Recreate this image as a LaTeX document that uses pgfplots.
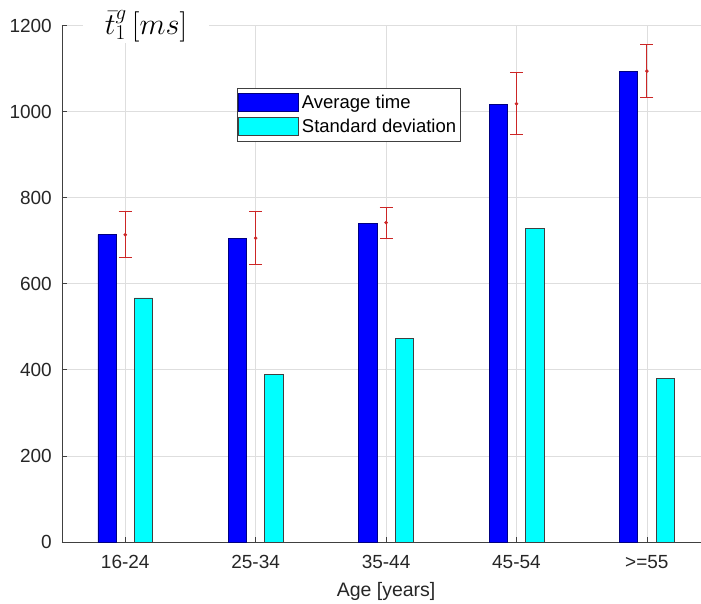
\documentclass[border=0pt]{standalone}
\usepackage{fontspec}
\setmainfont{Liberation Sans}
\usepackage{pgfplots}
\pgfplotsset{compat=1.18}
\usepackage{pgfplotstable}
\definecolor{axiscol}{rgb}{0.25,0.25,0.25}
\definecolor{gridcol}{rgb}{0.87,0.87,0.87}
\definecolor{errred}{rgb}{0.80,0.15,0.15}
\definecolor{barblue}{rgb}{0,0,1}
\definecolor{barcyan}{rgb}{0,1,1}
\pgfplotsset{
  patchlegend/.style={legend image code/.code={\draw[##1] (0pt,-9pt) rectangle (60pt,9pt);}}
}

\pgfplotstableread{
x  avg   sd
1  714   567
2  705   390
3  741   473
4  1017  728
5  1094  381
}\bars

\pgfplotstableread{
x  y     e
1  714   53
2  706   62
3  742   36
4  1018  72
5  1094  61
}\errs

\begin{document}
\begin{tikzpicture}
\begin{axis}[
  at={(0pt,0pt)}, anchor=south west,
  scale only axis, width=639pt, height=516.5pt,
  xmin=0.515, xmax=5.415, ymin=0, ymax=1200,
  axis x line*=bottom, axis y line*=left,
  axis line style={color=axiscol, line width=0.8pt},
  xtick={1,2,3,4,5},
  xticklabels={16-24,25-34,35-44,45-54,{>=55}},
  ytick={0,200,400,600,800,1000,1200},
  tick align=inside, major tick length=5pt,
  tick style={color=axiscol, line width=0.7pt},
  grid=major, major grid style={color=gridcol, line width=0.7pt},
  /pgf/number format/assume math mode=true,
  /pgf/number format/1000 sep={},
  ticklabel style={font=\fontsize{19}{22}\selectfont, text=axiscol!60!black},
  xticklabel style={inner sep=0pt, yshift=-13pt},
  yticklabel style={inner sep=0pt, xshift=-10pt},
  xlabel={Age [years]},
  xlabel style={font=\fontsize{19.5}{22}\selectfont, text=axiscol!60!black, at={(axis cs:3,0)}, anchor=north, inner sep=0pt, yshift=-40pt},
  legend style={at={(0.2739,0.879)}, anchor=north west, draw=axiscol, line width=0.6pt,
    font=\fontsize{18.5}{21}\selectfont, inner xsep=1pt, inner ysep=5pt, row sep=5.6pt,
    nodes={inner xsep=3pt, inner ysep=1pt}},
  legend cell align=left,
]
\addplot[ybar, bar width=0.14, bar shift=-0.14, fill=barblue, draw=blue!50!black, line width=0.6pt, patchlegend]
  table[x=x, y=avg] {\bars};
\addlegendentry{Average time}
\addplot[ybar, bar width=0.14, bar shift=0.14, fill=barcyan, draw=black!75, line width=0.6pt, patchlegend]
  table[x=x, y=sd] {\bars};
\addlegendentry{Standard deviation}
\addplot[forget plot, only marks, mark=*, mark size=1.6pt, color=errred, draw=errred, fill=errred,
  error bars/.cd, y dir=both, y explicit,
  error bar style={line width=1pt, draw=errred},
  error mark options={rotate=90, mark size=6.5pt, line width=1pt, draw=errred}]
  table[x=x, y=y, y error=e] {\errs};
\end{axis}
\node[fill=white, scale=1.22, inner xsep=18pt, inner ysep=1pt, font=\fontsize{24}{28}\selectfont] at (84pt,516pt) {$\bar{t}_1^{g}\,[ms]$};
\pgfresetboundingbox
\useasboundingbox (-62pt,-61pt) rectangle (639pt,542pt);
\end{tikzpicture}
\end{document}
